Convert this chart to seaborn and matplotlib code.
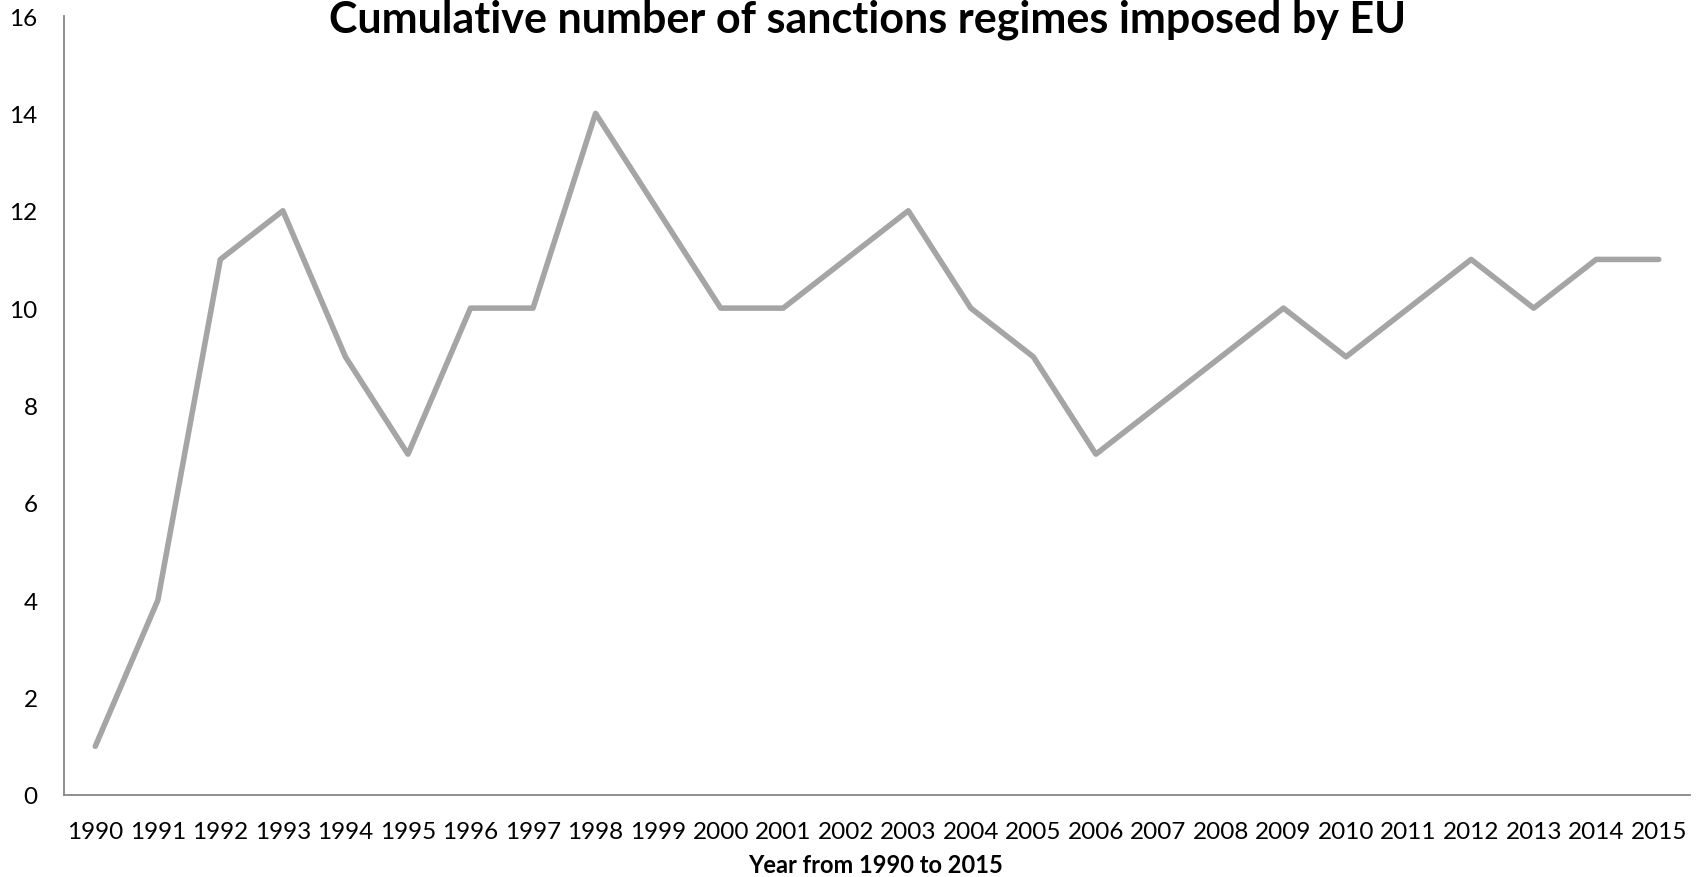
import matplotlib
matplotlib.use("Agg")
import matplotlib.pyplot as plt
import seaborn as sns
import pandas as pd

years = [str(y) for y in range(1990, 2016)]
values = [1, 4, 11, 12, 9, 7, 10, 10, 14, 12, 10, 10, 11, 12, 10, 9, 7, 8, 9, 10, 9, 10, 11, 10, 11, 11]
yticks = [0, 2, 4, 6, 8, 10, 12, 14, 16]
title = "Cumulative number of sanctions regimes imposed by EU"
xlabel = "Year from 1990 to 2015"

sns.set_theme(style="white")
plt.rcParams['font.family'] = ['Lato', 'DejaVu Sans']
plt.rcParams['text.color'] = 'black'

W, H = 1700, 878
fig = plt.figure(figsize=(W / 100, H / 100), dpi=100)
ax = fig.add_axes([64 / W, 1 - 796 / H, (1690 - 64) / W, (796 - 17) / H])

df = pd.DataFrame({"year": years, "value": values})
sns.lineplot(data=df, x="year", y="value", ax=ax, color="#A5A5A5", linewidth=4.0, sort=False)

ax.set_xlim(-0.5, len(years) - 0.5)
ax.set_ylim(0, 16)
ax.set_yticks(yticks)
ax.set_yticklabels([str(t) for t in yticks])
for s in ["top", "right"]:
    ax.spines[s].set_visible(False)
for s in ["left", "bottom"]:
    ax.spines[s].set_color("#868686")
    ax.spines[s].set_linewidth(1.3)
ax.tick_params(axis="both", length=0, labelsize=17.5, colors="black")
ax.tick_params(axis="y", pad=19)
ax.tick_params(axis="x", pad=19)
ax.set_ylabel("")
ax.set_xlabel("")
ax.grid(False)

fig.text(876 / W, 1 - 873 / H, xlabel, ha="center", va="baseline", fontsize=17, fontweight="bold", color="black")
fig.text(868 / W, 1 - 32 / H, title, ha="center", va="baseline", fontsize=31, fontweight="bold", color="black")

fig.savefig("out.png", dpi=100)
